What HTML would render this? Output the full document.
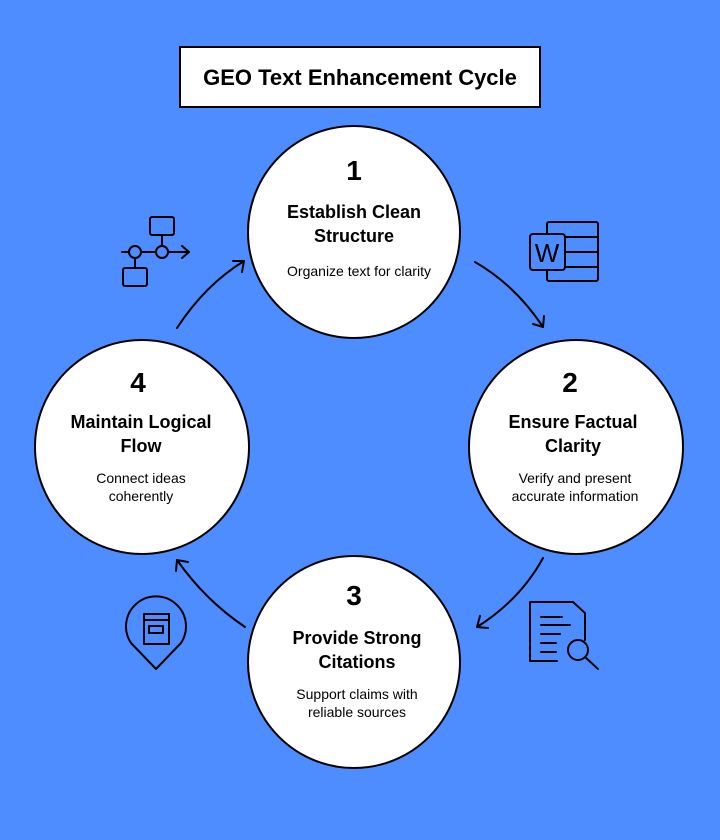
<!DOCTYPE html>
<html><head><style>
body{margin:0;width:720px;height:840px;background:#4d8dff;font-family:"Liberation Sans",sans-serif;overflow:hidden}
</style></head><body>
<svg width="720" height="840" xmlns="http://www.w3.org/2000/svg" style="position:absolute;left:0;top:0">
<rect x="0" y="0" width="720" height="840" fill="#4d8dff"/>
<rect x="180" y="47" width="360" height="60" fill="#fff" stroke="#000" stroke-width="2"/>
<text x="360" y="85" text-anchor="middle" font-family="Liberation Sans" font-weight="bold" font-size="22" fill="#000">GEO Text Enhancement Cycle</text>
<g fill="#fff" stroke="#000" stroke-width="2">
<circle cx="354" cy="232" r="106"/>
<circle cx="576" cy="447" r="107"/>
<circle cx="354" cy="662" r="106"/>
<circle cx="142" cy="447" r="107"/>
</g>
<g font-family="Liberation Sans" text-anchor="middle" fill="#000">
<text x="354" y="180" font-size="28" font-weight="bold">1</text>
<text x="354" y="218" font-size="18" font-weight="bold">Establish Clean</text>
<text x="354" y="242" font-size="18" font-weight="bold">Structure</text>
<text x="359" y="276" font-size="14">Organize text for clarity</text>
<text x="570" y="392" font-size="28" font-weight="bold">2</text>
<text x="573" y="428" font-size="18" font-weight="bold">Ensure Factual</text>
<text x="573" y="452" font-size="18" font-weight="bold">Clarity</text>
<text x="575" y="483" font-size="14">Verify and present</text>
<text x="575" y="501" font-size="14">accurate information</text>
<text x="354" y="605" font-size="28" font-weight="bold">3</text>
<text x="357" y="644" font-size="18" font-weight="bold">Provide Strong</text>
<text x="357" y="668" font-size="18" font-weight="bold">Citations</text>
<text x="357" y="699" font-size="14">Support claims with</text>
<text x="357" y="717" font-size="14">reliable sources</text>
<text x="138" y="392" font-size="28" font-weight="bold">4</text>
<text x="141" y="428" font-size="18" font-weight="bold">Maintain Logical</text>
<text x="141" y="452" font-size="18" font-weight="bold">Flow</text>
<text x="141" y="483" font-size="14">Connect ideas</text>
<text x="141" y="501" font-size="14">coherently</text>
</g>
<g fill="none" stroke="#000" stroke-width="2" stroke-linecap="round" stroke-linejoin="round">
<path d="M475 262 Q515 285 543 327"/><path d="M533 324 L543 327 L544 316"/>
<path d="M543 558 Q520 600 477 627"/><path d="M480 616 L477 627 L488 628"/>
<path d="M245 627 Q205 600 177 560"/><path d="M176 571 L177 560 L188 562"/>
<path d="M177 328 Q205 285 244 261"/><path d="M233 261 L244 261 L242 272"/>
<!-- flow icon -->
<rect x="150" y="217" width="24" height="18" rx="2"/>
<line x1="162" y1="235" x2="162" y2="245"/>
<circle cx="162" cy="252" r="6"/>
<circle cx="135" cy="252" r="6"/>
<line x1="122" y1="252" x2="129" y2="252"/><line x1="141" y1="252" x2="156" y2="252"/><line x1="168" y1="252" x2="189" y2="252"/>
<path d="M182 246 L189 252 L182 258"/>
<line x1="135" y1="258" x2="135" y2="268"/>
<rect x="123" y="268" width="24" height="18" rx="2"/>
<!-- word icon -->
<rect x="547" y="222" width="51" height="59" rx="2"/>
<line x1="565" y1="237" x2="598" y2="237"/><line x1="565" y1="252" x2="598" y2="252"/><line x1="565" y1="267" x2="598" y2="267"/>
<rect x="530" y="234" width="35" height="36" rx="3" fill="#4d8dff"/>
<!-- doc search icon -->
<path d="M557 661 L530 661 L530 602 L573 602 L585 613 L585 640"/>
<line x1="541" y1="617" x2="562" y2="617"/><line x1="541" y1="625" x2="570" y2="625"/><line x1="541" y1="634" x2="560" y2="634"/><line x1="541" y1="643" x2="556" y2="643"/><line x1="541" y1="652" x2="556" y2="652"/>
<circle cx="578" cy="650" r="10"/><line x1="585" y1="657" x2="598" y2="669"/>
<!-- pin book icon -->
<path d="M156 669 L131 643 A30 30 0 1 1 181 643 Z"/>
<rect x="144" y="614" width="25" height="30"/>
<line x1="144" y1="620" x2="169" y2="620"/>
<rect x="149" y="626" width="14" height="7"/>
</g>
<text x="547" y="262" font-family="Liberation Sans" font-size="26" text-anchor="middle" fill="#000">W</text>
</svg>
</body></html>
